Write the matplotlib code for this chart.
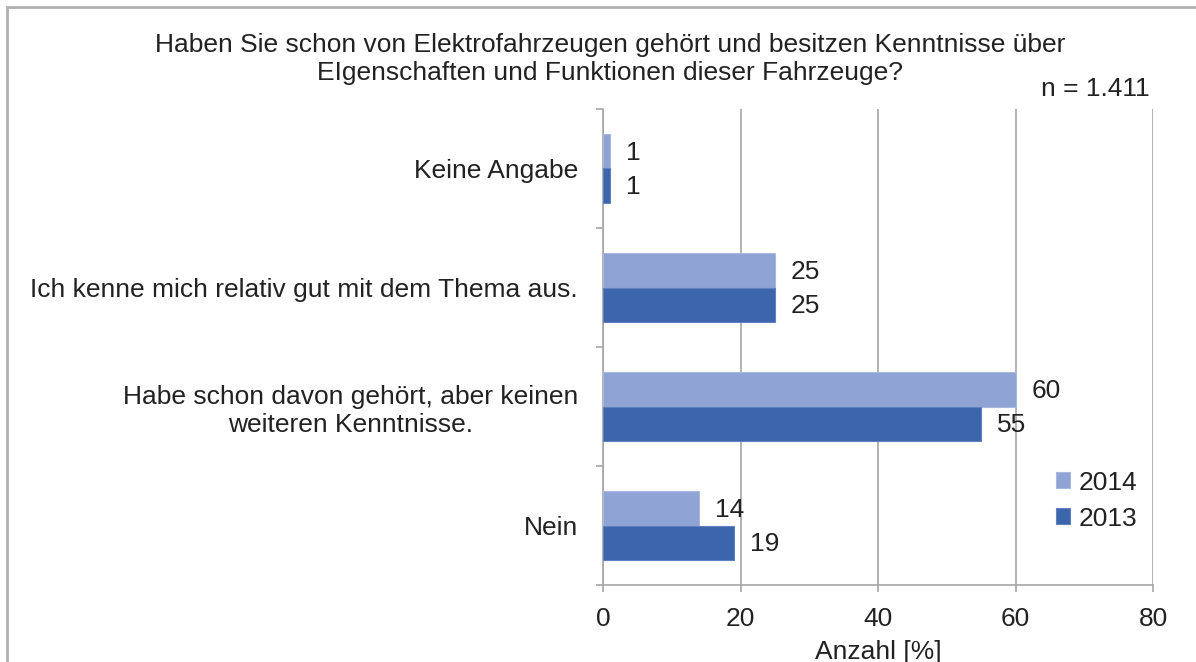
import matplotlib.pyplot as plt
import numpy as np
from matplotlib.patches import Rectangle

# data (top to bottom as in the chart)
categories = ["Keine Angabe",
              "Ich kenne mich relativ gut mit dem Thema aus.",
              "Habe schon davon gehört, aber keinen\nweiteren Kenntnisse.",
              "Nein"]
values_2014 = [1, 25, 60, 14]
values_2013 = [1, 25, 55, 19]
x_ticks = [0, 20, 40, 60, 80]

col_2014 = "#8fa3d4"
col_2013 = "#3d65ab"
grid_col = "#a6a6a6"
txt_col = "#222222"
fs = 19

plt.rcParams['font.family'] = ['Liberation Sans', 'DejaVu Sans']

fig = plt.figure(figsize=(11.96, 6.62), dpi=100)
ax = fig.add_axes([603/1196, 1-585/662, 550/1196, 476/662])

n = len(categories)
ypos = np.arange(n)[::-1]  # top category highest
h = 0.286

b14 = ax.barh(ypos + h/2, values_2014, height=h, color=col_2014, edgecolor="#a9b8e0", linewidth=0.8, label="2014", zorder=3)
b13 = ax.barh(ypos - h/2, values_2013, height=h, color=col_2013, edgecolor="#6080c0", linewidth=0.8, label="2013", zorder=3)

for bars, vals in [(b14, values_2014), (b13, values_2013)]:
    for b, v in zip(bars, vals):
        ax.annotate(str(v), (b.get_width(), b.get_y() + b.get_height()/2),
                    xytext=(11.5, -1), textcoords="offset points",
                    ha="left", va="center", fontsize=fs, color=txt_col)

ax.set_xlim(0, 80)
ax.set_ylim(-0.5, n - 0.5)
ax.set_xticks(x_ticks)
ax.set_xticklabels([str(t) for t in x_ticks], fontsize=fs, color=txt_col)
ax.xaxis.grid(True, color=grid_col, linewidth=1.2, zorder=0)
ax.tick_params(axis="x", length=5, width=1.2, color=grid_col, pad=11)

ax.set_yticks(ypos)
ax.set_yticklabels(categories, fontsize=fs, color=txt_col, multialignment="center")
ax.set_yticks(np.arange(-0.5, n, 1.0), minor=True)
ax.tick_params(axis="y", which="major", length=0, pad=18)
ax.tick_params(axis="y", which="minor", length=5, width=1.2, color=grid_col)

for s in ["top", "right"]:
    ax.spines[s].set_visible(False)
for s in ["left", "bottom"]:
    ax.spines[s].set_color(grid_col)
    ax.spines[s].set_linewidth(1.2)

ax.set_xlabel("Anzahl [%]", fontsize=fs, color=txt_col, labelpad=6)

fig.text(610/1196, 1-59/662,
         "Haben Sie schon von Elektrofahrzeugen gehört und besitzen Kenntnisse über\nEIgenschaften und Funktionen dieser Fahrzeuge?",
         ha="center", va="center", fontsize=fs, color=txt_col, linespacing=1.2)
fig.text(1150/1196, 1-89/662, "n = 1.411", ha="right", va="center", fontsize=fs, color=txt_col)

ax.legend(handles=[b14, b13], loc="upper left", bbox_to_anchor=(1032/1196, 1-447/662),
          bbox_transform=fig.transFigure, frameon=False, fontsize=fs,
          handlelength=0.55, handleheight=0.55, handletextpad=0.3, labelspacing=0.45,
          labelcolor=txt_col)

# outer frame of the chart area
fig.patches.append(Rectangle((7/1196, -0.1), 1.2, 1.1 - 7/662, transform=fig.transFigure,
                             fill=False, edgecolor="#b0b0b0", linewidth=2))

fig.savefig("out.png", dpi=100)
